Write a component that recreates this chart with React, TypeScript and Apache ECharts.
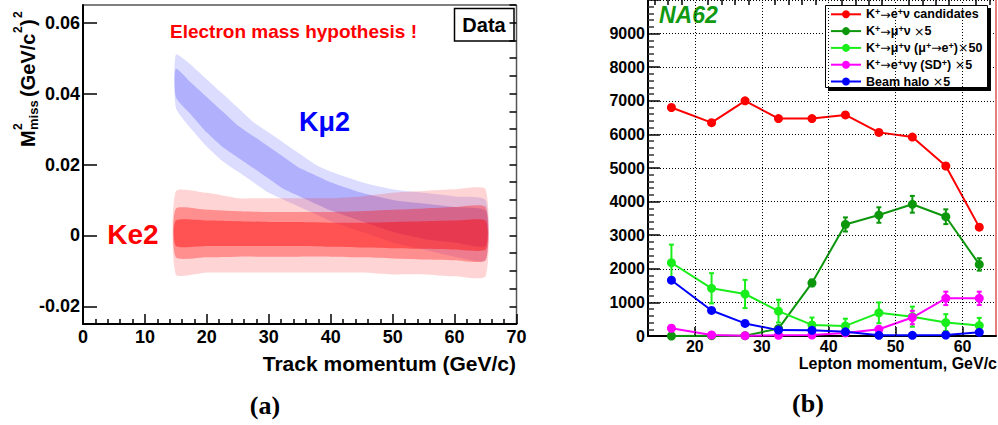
import React, { useEffect, useRef } from "react";
import * as echarts from "echarts";

const SANS = '"Liberation Sans", Arial, Helvetica, sans-serif';
const SERIF = '"Liberation Serif", "Times New Roman", serif';

// ---------------- Panel (a): M²miss vs track momentum ----------------
const aXTickLabels = [0, 10, 20, 30, 40, 50, 60, 70];
const aYTickLabels = [-0.02, 0, 0.02, 0.04, 0.06];
const aYMinorTicks = [
  -0.025, -0.02, -0.015, -0.01, -0.005, 0, 0.005, 0.01, 0.015, 0.02, 0.025,
  0.03, 0.035, 0.04, 0.045, 0.05, 0.055, 0.06, 0.065,
];

// Ke2 (electron) population: density envelopes
const ke2X = [15, 20, 25, 30, 35, 40, 45, 50, 55, 60, 65];
const ke2OuterHi = [0.0125, 0.012, 0.0105, 0.0105, 0.0105, 0.0105, 0.011, 0.012, 0.0125, 0.013, 0.013];
const ke2OuterLo = [-0.011, -0.0105, -0.0105, -0.0105, -0.0105, -0.0105, -0.0105, -0.011, -0.011, -0.0115, -0.0115];
const ke2MidHi = [0.0075, 0.0072, 0.0068, 0.0066, 0.0066, 0.0066, 0.0068, 0.0072, 0.0076, 0.008, 0.008];
const ke2MidLo = [-0.0062, -0.0062, -0.006, -0.006, -0.006, -0.006, -0.0062, -0.0065, -0.0068, -0.007, -0.007];
const ke2CoreHi = [0.0042, 0.0042, 0.004, 0.0038, 0.0038, 0.0036, 0.0036, 0.0038, 0.004, 0.0042, 0.0042];
const ke2CoreLo = [-0.003, -0.003, -0.003, -0.003, -0.003, -0.0032, -0.0034, -0.0036, -0.0038, -0.004, -0.004];

// Kmu2 (muon) population under the electron mass hypothesis
const kmu2X = [15, 17.5, 20, 22.5, 25, 27.5, 30, 32.5, 35, 37.5, 40, 45, 50, 55, 60, 65];
const kmu2OuterHi = [0.051, 0.048, 0.044, 0.04, 0.036, 0.032, 0.029, 0.026, 0.023, 0.02, 0.018, 0.015, 0.013, 0.012, 0.011, 0.01];
const kmu2OuterLo = [0.036, 0.03, 0.025, 0.021, 0.018, 0.015, 0.012, 0.01, 0.008, 0.006, 0.004, 0.001, -0.002, -0.004, -0.006, -0.007];
const kmu2CoreHi = [0.047, 0.043, 0.039, 0.035, 0.031, 0.028, 0.025, 0.022, 0.019, 0.017, 0.015, 0.012, 0.01, 0.009, 0.008, 0.007];
const kmu2CoreLo = [0.039, 0.034, 0.029, 0.025, 0.022, 0.019, 0.016, 0.013, 0.011, 0.009, 0.007, 0.004, 0.001, -0.001, -0.002, -0.003];

// ---------------- Panel (b): lepton momentum spectra ----------------
const bX = [16.5, 22.5, 27.5, 32.5, 37.5, 42.5, 47.5, 52.5, 57.5, 62.5];
const keCandidates = [6800, 6350, 7000, 6470, 6470, 6580, 6060, 5920, 5060, 3240];
const kmu2x5 = [0, 10, 10, 220, 1580, 3320, 3600, 3920, 3550, 2130];
const kmu2x5Err = [0, 0, 0, 60, 100, 210, 230, 250, 220, 185];
const kmuDecayX50 = [2180, 1420, 1250, 740, 330, 300, 690, 575, 400, 310];
const kmuDecayErr = [540, 450, 420, 340, 220, 215, 310, 300, 250, 230];
const sdX5 = [230, 30, 10, 20, 30, 90, 200, 550, 1120, 1120];
const sdErr = [60, 20, 10, 10, 20, 40, 80, 200, 200, 200];
const haloX5 = [1660, 760, 375, 175, 170, 125, 20, 20, 30, 110];
const bXTickLabels = [20, 30, 40, 50, 60];
const bXMinorTicks = [14, 16, 18, 22, 24, 26, 28, 32, 34, 36, 38, 42, 44, 46, 48, 52, 54, 56, 58, 62, 64];

const seriesNames = [
  "K+→e+ν candidates",
  "K+→μ+ν ×5",
  "K+→μ+ν (μ+→e+) ×50",
  "K+→e+νγ (SD+) ×5",
  "Beam halo ×5",
];
const legendRich: Record<string, string> = {
  "K+→e+ν candidates": "K{s|+}{a|→}e{s|+}ν candidates",
  "K+→μ+ν ×5": "K{s|+}{a|→}μ{s|+}ν {a|×}5",
  "K+→μ+ν (μ+→e+) ×50": "K{s|+}{a|→}μ{s|+}ν (μ{s|+}{a|→}e{s|+}){a|×}50",
  "K+→e+νγ (SD+) ×5": "K{s|+}{a|→}e{s|+}νγ (SD{s|+}) {a|×}5",
  "Beam halo ×5": "Beam halo {a|×}5",
};
const seriesColors = ["#ff0000", "#0c960c", "#1aee1a", "#ff00ff", "#0000ff"];

type Band = { x: number[]; hi: number[]; lo: number[]; color: string };
const bands: Band[] = [
  { x: kmu2X, hi: kmu2OuterHi, lo: kmu2OuterLo, color: "rgba(80,80,255,0.2)" },
  { x: kmu2X, hi: kmu2CoreHi, lo: kmu2CoreLo, color: "rgba(50,50,245,0.26)" },
  { x: ke2X, hi: ke2OuterHi, lo: ke2OuterLo, color: "rgba(255,40,40,0.2)" },
  { x: ke2X, hi: ke2MidHi, lo: ke2MidLo, color: "rgba(255,20,20,0.36)" },
  { x: ke2X, hi: ke2CoreHi, lo: ke2CoreLo, color: "rgba(255,0,0,0.42)" },
];

function bandSeries(b: Band) {
  return {
    type: "custom",
    xAxisIndex: 0,
    yAxisIndex: 0,
    silent: true,
    data: [[b.x[0], b.hi[0]]],
    renderItem: (_params: any, api: any) => {
      const pts: number[][] = [];
      for (let i = 0; i < b.x.length; i++) pts.push(api.coord([b.x[i], b.hi[i]]));
      for (let i = b.x.length - 1; i >= 0; i--) pts.push(api.coord([b.x[i], b.lo[i]]));
      return { type: "polygon", shape: { points: pts, smooth: 0.2 }, style: { fill: b.color } };
    },
  };
}

function errSeries(vals: number[], errs: number[], color: string) {
  return {
    type: "custom",
    xAxisIndex: 1,
    yAxisIndex: 2,
    silent: true,
    z: 3,
    data: bX.map((x, i) => [x, vals[i], errs[i]]),
    renderItem: (_p: any, api: any) => {
      const x = api.value(0);
      const y = api.value(1);
      const e = api.value(2);
      if (!e) return { type: "group", children: [] };
      const t = api.coord([x, y + e]);
      const b = api.coord([x, y - e]);
      const st = { stroke: color, lineWidth: 2 };
      const c = 2.5;
      return {
        type: "group",
        children: [
          { type: "line", shape: { x1: t[0], y1: t[1], x2: b[0], y2: b[1] }, style: st },
          { type: "line", shape: { x1: t[0] - c, y1: t[1], x2: t[0] + c, y2: t[1] }, style: st },
          { type: "line", shape: { x1: b[0] - c, y1: b[1], x2: b[0] + c, y2: b[1] }, style: st },
        ],
      };
    },
  };
}

function lineSeries(name: string, vals: number[], color: string) {
  return {
    name,
    type: "line",
    xAxisIndex: 1,
    yAxisIndex: 2,
    z: 4,
    data: bX.map((x, i) => [x, vals[i]]),
    symbol: "circle",
    symbolSize: 9,
    itemStyle: { color },
    lineStyle: { color, width: 2 },
  };
}

const labelStyle = { color: "#000", fontFamily: SANS, fontWeight: "bold" };

export default function App() {
  const ref = useRef<HTMLDivElement>(null);
  useEffect(() => {
    if (!ref.current) return;
    const chart = echarts.init(ref.current, undefined, { renderer: "svg" });
    const option: any = {
      animation: false,
      backgroundColor: "#ffffff",
      grid: [
        { left: 83, top: 5, width: 433.5, height: 319, outerBoundsMode: "none" },
        { left: 648, top: 0, width: 348, height: 336, outerBoundsMode: "none" },
      ],
      xAxis: [
        {
          gridIndex: 0,
          type: "value",
          min: 0,
          max: 70,
          interval: 10,
          axisLine: { onZero: false, lineStyle: { color: "#000", width: 2 } },
          axisTick: { inside: true, length: 10, lineStyle: { color: "#000", width: 1.5 } },
          minorTick: { show: true, splitNumber: 5, length: 5, lineStyle: { color: "#000", width: 1.5 } },
          axisLabel: { ...labelStyle, fontSize: 18, margin: 4, customValues: aXTickLabels },
          splitLine: { show: false },
        },
        {
          gridIndex: 1,
          type: "value",
          min: 13,
          max: 65,
          axisLine: { onZero: false, lineStyle: { color: "#000", width: 2 } },
          axisTick: { inside: true, length: 9, customValues: bXTickLabels, lineStyle: { color: "#000", width: 1.5 } },
          axisLabel: { ...labelStyle, fontSize: 16, margin: 2, customValues: bXTickLabels },
          splitLine: { show: false },
        },
        {
          gridIndex: 1,
          type: "value",
          min: 13,
          max: 65,
          axisLine: { show: false, onZero: false },
          axisTick: { inside: true, length: 5, customValues: bXMinorTicks, lineStyle: { color: "#000", width: 1.5 } },
          axisLabel: { show: false },
          splitLine: { show: false },
        },
      ],
      yAxis: [
        {
          gridIndex: 0,
          type: "value",
          min: -0.025,
          max: 0.065,
          axisLine: { show: true, onZero: false, lineStyle: { color: "#000", width: 2 } },
          axisTick: { show: true, inside: true, length: 14, customValues: aYTickLabels, lineStyle: { color: "#000", width: 1.5 } },
          axisLabel: { ...labelStyle, fontSize: 18, margin: 3, customValues: aYTickLabels },
          splitLine: { show: false },
        },
        {
          gridIndex: 0,
          type: "value",
          min: -0.025,
          max: 0.065,
          axisLine: { show: false, onZero: false },
          axisTick: { show: true, inside: true, length: 7, customValues: aYMinorTicks, lineStyle: { color: "#000", width: 1.5 } },
          axisLabel: { show: false },
          splitLine: { show: false },
        },
        {
          gridIndex: 1,
          type: "value",
          min: 0,
          max: 10000,
          interval: 1000,
          axisLine: { show: true, onZero: false, lineStyle: { color: "#000", width: 2 } },
          axisTick: { show: true, inside: true, length: 12, lineStyle: { color: "#000", width: 1.5 } },
          minorTick: { show: true, splitNumber: 5, length: 6, lineStyle: { color: "#333", width: 1.5 } },
          axisLabel: { ...labelStyle, fontSize: 16, margin: 3, showMaxLabel: false, formatter: (v: number) => String(v) },
          splitLine: { show: true, lineStyle: { color: "#000", width: 1, type: [1, 2] } },
        },
      ],
      legend: {
        data: seriesNames,
        orient: "vertical",
        left: 830,
        top: 7.8,
        padding: 0,
        itemWidth: 30,
        itemHeight: 10,
        itemGap: 3.8,
        selectedMode: false,
        formatter: (name: string) => legendRich[name] || name,
        textStyle: {
          ...labelStyle,
          fontSize: 12.5,
          rich: {
            s: { fontFamily: SANS, fontWeight: "bold", fontSize: 9, verticalAlign: "top", color: "#000" },
            a: { fontFamily: '"DejaVu Sans", sans-serif', fontWeight: "normal", fontSize: 12.5, color: "#000" },
          },
        },
      },
      graphic: [
        // panel (a) frame (top & right)
        { type: "line", shape: { x1: 83, y1: 5, x2: 516.5, y2: 5 }, style: { stroke: "#555", lineWidth: 1.5 } },
        { type: "line", shape: { x1: 516.5, y1: 5, x2: 516.5, y2: 324 }, style: { stroke: "#555", lineWidth: 1.5 } },
        // Data box
        { type: "rect", shape: { x: 454.5, y: 8.5, width: 59.5, height: 32.5 }, style: { fill: "#fff", stroke: "#000", lineWidth: 1.5 } },
        { type: "text", x: 484, y: 25, style: { text: "Data", fill: "#000", font: `bold 20px ${SANS}`, align: "center", verticalAlign: "middle" } },
        { type: "text", x: 293.5, y: 31, style: { text: "Electron mass hypothesis !", fill: "#ff0000", font: `bold 19px ${SANS}`, align: "center", verticalAlign: "middle" } },
        { type: "text", x: 324.5, y: 122, style: { text: "Kμ2", fill: "#0000ff", font: `bold 27px ${SANS}`, align: "center", verticalAlign: "middle" } },
        { type: "text", x: 133, y: 234, style: { text: "Ke2", fill: "#ff0000", font: `bold 28px ${SANS}`, align: "center", verticalAlign: "middle" } },
        {
          type: "group",
          x: 28,
          y: 147,
          rotation: Math.PI / 2,
          children: [
            { type: "text", x: 0, y: 0, style: { text: "M", fill: "#000", font: `bold 20px ${SANS}`, align: "left", verticalAlign: "middle" } },
            { type: "text", x: 17, y: -10, style: { text: "2", fill: "#000", font: `bold 12px ${SANS}`, align: "left", verticalAlign: "middle" } },
            { type: "text", x: 17, y: 5, style: { text: "miss", fill: "#000", font: `bold 13px ${SANS}`, align: "left", verticalAlign: "middle" } },
            { type: "text", x: 50, y: 0, style: { text: "(GeV/c", fill: "#000", font: `bold 20px ${SANS}`, align: "left", verticalAlign: "middle" } },
            { type: "text", x: 114, y: -10, style: { text: "2", fill: "#000", font: `bold 12px ${SANS}`, align: "left", verticalAlign: "middle" } },
            { type: "text", x: 121, y: 0, style: { text: ")", fill: "#000", font: `bold 20px ${SANS}`, align: "left", verticalAlign: "middle" } },
            { type: "text", x: 129, y: -10, style: { text: "2", fill: "#000", font: `bold 12px ${SANS}`, align: "left", verticalAlign: "middle" } },
          ],
        },
        { type: "text", x: 516, y: 363, style: { text: "Track momentum (GeV/c)", fill: "#000", font: `bold 21px ${SANS}`, align: "right", verticalAlign: "middle" } },
        { type: "text", x: 265, y: 405, style: { text: "(a)", fill: "#000", font: `bold 26px ${SERIF}`, align: "center", verticalAlign: "middle" } },
        // panel (b)
        { type: "line", shape: { x1: 996, y1: 0, x2: 996, y2: 336 }, style: { stroke: "#cc0000", lineWidth: 1 } },
        { type: "text", x: 659, y: 15, style: { text: "NA62", fill: "#119911", font: `italic bold 23px ${SANS}`, align: "left", verticalAlign: "middle" } },
        { type: "rect", z: 3, shape: { x: 828, y: 8, width: 163, height: 83 }, style: { fill: "#000" } },
        { type: "rect", z: 3, shape: { x: 825.5, y: 5.5, width: 162, height: 82 }, style: { fill: "#fff", stroke: "#000", lineWidth: 1 } },
        { type: "text", x: 997, y: 363, style: { text: "Lepton momentum, GeV/c", fill: "#000", font: `bold 16px ${SANS}`, align: "right", verticalAlign: "middle" } },
        { type: "text", x: 808, y: 403, style: { text: "(b)", fill: "#000", font: `bold 26px ${SERIF}`, align: "center", verticalAlign: "middle" } },
      ],
      series: [
        ...bands.map(bandSeries),
        {
          type: "line",
          xAxisIndex: 1,
          yAxisIndex: 2,
          z: 1,
          silent: true,
          data: [[bX[0], keCandidates[0]]],
          symbol: "none",
          lineStyle: { opacity: 0 },
          markLine: {
            silent: true,
            symbol: "none",
            label: { show: false },
            lineStyle: { color: "#000", width: 1, type: [1, 2] },
            data: bXTickLabels.map((v) => ({ xAxis: v })),
          },
        },
        errSeries(kmu2x5, kmu2x5Err, seriesColors[1]),
        errSeries(kmuDecayX50, kmuDecayErr, seriesColors[2]),
        errSeries(sdX5, sdErr, seriesColors[3]),
        lineSeries(seriesNames[0], keCandidates, seriesColors[0]),
        lineSeries(seriesNames[1], kmu2x5, seriesColors[1]),
        lineSeries(seriesNames[2], kmuDecayX50, seriesColors[2]),
        lineSeries(seriesNames[3], sdX5, seriesColors[3]),
        lineSeries(seriesNames[4], haloX5, seriesColors[4]),
      ],
    };
    chart.setOption(option);
    return () => chart.dispose();
  }, []);
  return (
    <div
      ref={ref}
      style={{ position: "absolute", left: 0, top: 0, width: 998, height: 425, background: "#fff" }}
    />
  );
}
